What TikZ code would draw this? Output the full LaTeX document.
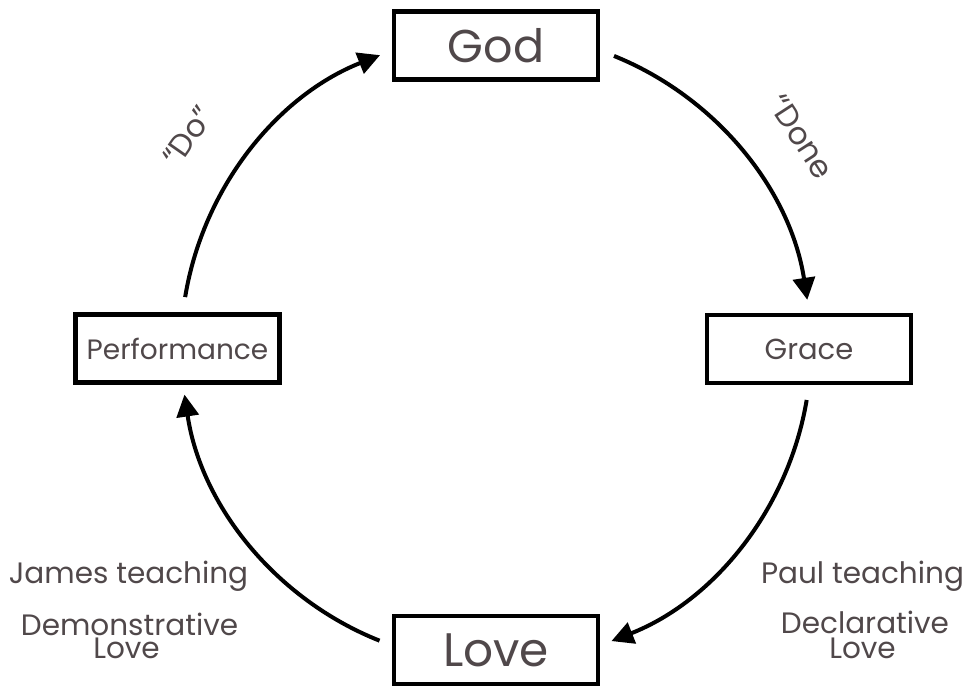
\documentclass[tikz,border=0pt]{standalone}
\usepackage{fontspec}
\setmainfont{Poppins}
\usetikzlibrary{calc,arrows.meta}
\definecolor{txt}{RGB}{80,72,74}
\begin{document}
\begin{tikzpicture}[x=1pt,y=1pt,
  box/.style={draw=black,line width=4.5pt,minimum width=204pt,minimum height=68pt,inner sep=0pt,text=txt},
  conn/.style={line width=4pt,-{Triangle[length=22pt,width=22pt]}},
  lbl/.style={text=txt,inner sep=0pt,font=\fontsize{29.5}{30}\selectfont}]
\useasboundingbox (0,0) rectangle (968,-688);
\node[box,font=\fontsize{46}{46}\selectfont] (god) at (496,-45.5) {God};
\node[box,font=\fontsize{29}{30}\selectfont] (grace) at (809,-349) {Grace};
\node[box,font=\fontsize{28}{30}\selectfont] (perf) at (177.5,-348.5) {Performance};
\node[box,font=\fontsize{47}{47}\selectfont] (love) at (496,-650) {Love};
\coordinate (c) at (496,-348);
\coordinate (s1) at ($(c)+(68:315)$);
\coordinate (s2) at ($(c)+(-9.5:315)$);
\coordinate (s3) at ($(c)+(248.3:315)$);
\coordinate (s4) at ($(c)+(170.7:315)$);
\draw[conn] (s1) arc[start angle=68,end angle=8.8,radius=315pt];
\draw[conn] (s2) arc[start angle=-9.5,end angle=-68.5,radius=315pt];
\draw[conn] (s3) arc[start angle=248.3,end angle=188.5,radius=315pt];
\draw[conn] (s4) arc[start angle=170.7,end angle=111.6,radius=315pt];
\node[lbl,rotate=55,font=\fontsize{31}{31}\selectfont] (do) at (188,-136) {“Do”};
\node[lbl,rotate=-57,font=\fontsize{31}{31}\selectfont] (done) at (801,-137) {“Done};
\node[lbl,anchor=base] (james) at (128.5,-583) {James teaching};
\node[lbl,anchor=base] (demo) at (129.5,-635) {Demonstrative};
\node[lbl,anchor=base] (lovel) at (126.5,-658) {Love};
\node[lbl,anchor=base] (paul) at (862.5,-583) {Paul teaching};
\node[lbl,anchor=base] (decl) at (865,-633) {Declarative};
\node[lbl,anchor=base] (lover) at (862.5,-658) {Love};
\end{tikzpicture}
\end{document}
